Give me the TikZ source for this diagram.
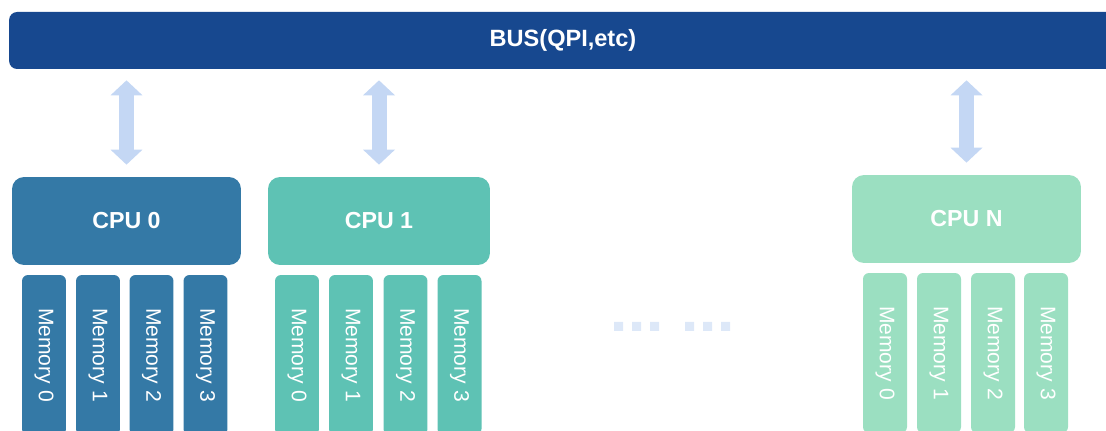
\documentclass[tikz,border=0pt]{standalone}
\usepackage{fontspec}
\setmainfont{Liberation Sans}
\usetikzlibrary{arrows.meta, positioning}
\definecolor{busblue}{RGB}{23,72,143}
\definecolor{cpublue}{RGB}{52,121,166}
\definecolor{cputeal}{RGB}{94,194,180}
\definecolor{cpugreen}{RGB}{155,223,193}
\definecolor{linkblue}{RGB}{196,215,244}
\definecolor{dotblue}{RGB}{221,232,248}

\begin{document}
\begin{tikzpicture}[x=0.02cm, y=-0.02cm,
  cpubox/.style={rectangle, rounded corners=0.24cm, minimum width=4.56cm, minimum height=1.76cm, text=white, font=\fontsize{13.2}{15}\selectfont\bfseries},
  membox/.style={rectangle, rounded corners=0.12cm, rotate=-90, minimum width=3.2cm, minimum height=0.88cm, text=white, font=\fontsize{12}{14}\selectfont},
  link/.style={linkblue, line width=0.3cm, {Triangle[length=0.3cm, width=0.64cm, line width=0pt]}-{Triangle[length=0.3cm, width=0.64cm, line width=0pt]}, shorten <=0.22cm, shorten >=0.24cm}]
\useasboundingbox (0,0) rectangle (1106,431);

% Bus
\node[rectangle, rounded corners=0.16cm, fill=busblue, minimum width=22.16cm, minimum height=1.14cm, text=white, font=\fontsize{13.4}{15}\selectfont\bfseries] (bus) at (563,40.5) {BUS(QPI,etc)};

% CPUs
\node[cpubox, fill=cpublue, minimum width=4.58cm] (cpu0) at (126.5,221) {CPU 0};
\node[cpubox, fill=cputeal, minimum width=4.44cm] (cpu1) at (379,221) {CPU 1};
\node[cpubox, fill=cpugreen, minimum width=4.58cm] (cpuN) at (966.5,219) {CPU N};

% Links to the bus
\draw[link] (bus.south -| cpu0.north) -- (cpu0.north);
\draw[link] (bus.south -| cpu1.north) -- (cpu1.north);
\draw[link] (bus.south -| cpuN.north) -- (cpuN.north);

% Memory of CPU 0
\node[membox, fill=cpublue] (mem00) at (44,355) {Memory 0};
\node[membox, fill=cpublue] (mem01) at (98,355) {Memory 1};
\node[membox, fill=cpublue] (mem02) at (151.5,355) {Memory 2};
\node[membox, fill=cpublue] (mem03) at (205.5,355) {Memory 3};

% Memory of CPU 1
\node[membox, fill=cputeal] (mem10) at (297,355) {Memory 0};
\node[membox, fill=cputeal] (mem11) at (351,355) {Memory 1};
\node[membox, fill=cputeal] (mem12) at (405.5,355) {Memory 2};
\node[membox, fill=cputeal] (mem13) at (459.5,355) {Memory 3};

% Memory of CPU N
\node[membox, fill=cpugreen] (memN0) at (885,353) {Memory 0};
\node[membox, fill=cpugreen] (memN1) at (939,353) {Memory 1};
\node[membox, fill=cpugreen] (memN2) at (993,353) {Memory 2};
\node[membox, fill=cpugreen] (memN3) at (1046,353) {Memory 3};

% Dots
\fill[dotblue] (614,322) rectangle +(9,9) (632,322) rectangle +(9,9) (650,322) rectangle +(9,9)
  (685,322) rectangle +(9,9) (703,322) rectangle +(9,9) (721,322) rectangle +(9,9);
\end{tikzpicture}
\end{document}
